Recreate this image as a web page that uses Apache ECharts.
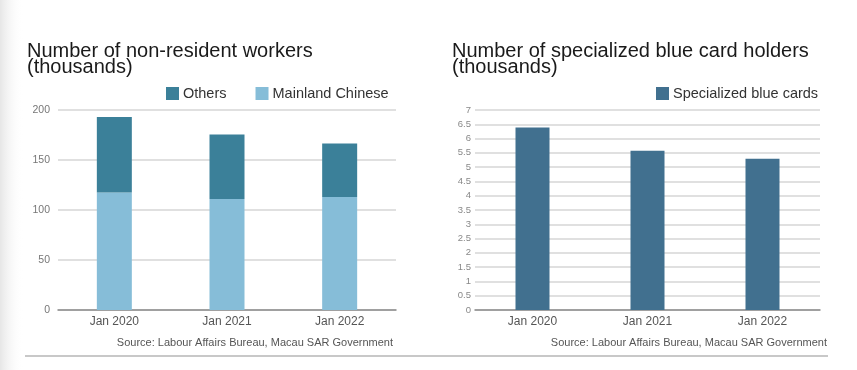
<!DOCTYPE html>
<html><head><meta charset="utf-8">
<script src="https://cdn.jsdelivr.net/npm/echarts@6/dist/echarts.min.js"></script>
<style>html,body{margin:0;padding:0;background:#fff}#c{width:857px;height:370px}</style>
</head><body><div id="c"></div>
<script>
var categories = ['Jan 2020', 'Jan 2021', 'Jan 2022'];
var mainlandChinese = [117.5, 111, 113];
var others = [75.5, 64.5, 53.5];
var blueCards = [6.39, 5.57, 5.29];
var leftTicks = [0, 50, 100, 150, 200];
var rightTicks = [0, 0.5, 1, 1.5, 2, 2.5, 3, 3.5, 4, 4.5, 5, 5.5, 6, 6.5, 7];

var FF = '"Liberation Sans", Arial, sans-serif';
var chart = echarts.init(document.getElementById('c'), null, {renderer: 'canvas'});
var yBase = {
  type: 'value',
  axisLine: {show: false}, axisTick: {show: false},
  splitLine: {lineStyle: {color: '#d6d6d6', width: 1.5}}
};
var xBase = {
  type: 'category', data: categories,
  axisLine: {lineStyle: {color: '#8a8a8a', width: 1.5}},
  axisTick: {show: false},
  axisLabel: {color: '#555', fontSize: 12, fontFamily: FF, margin: 6}
};
chart.setOption({
  animation: false,
  backgroundColor: '#fff',
  title: [
    {text: 'Number of non-resident workers\n(thousands)', left: 22, top: 38,
     textStyle: {fontFamily: FF, fontSize: 20, fontWeight: 'normal', color: '#1a1a1a', lineHeight: 16.5}},
    {text: 'Number of specialized blue card holders\n(thousands)', left: 447, top: 38,
     textStyle: {fontFamily: FF, fontSize: 20, fontWeight: 'normal', color: '#1a1a1a', lineHeight: 16.5}}
  ],
  legend: [
    {data: ['Others', 'Mainland Chinese'], left: 161, top: 81, itemWidth: 13, itemHeight: 13, itemGap: 29,
     textStyle: {fontFamily: FF, fontSize: 14.5, color: '#333', padding: [0, 0, 0, -1]}, icon: 'rect'},
    {data: ['Specialized blue cards'], left: 651, top: 81, itemWidth: 13, itemHeight: 13,
     textStyle: {fontFamily: FF, fontSize: 14.5, color: '#333', padding: [0, 0, 0, -1]}, icon: 'rect'}
  ],
  grid: [
    {left: 58, top: 110, width: 338, height: 200, containLabel: false},
    {left: 475, top: 110, width: 345, height: 200, containLabel: false}
  ],
  xAxis: [
    Object.assign({gridIndex: 0}, xBase),
    Object.assign({gridIndex: 1}, xBase)
  ],
  yAxis: [
    Object.assign({gridIndex: 0, min: leftTicks[0], max: leftTicks[leftTicks.length - 1], interval: 50,
      axisLabel: {color: '#777', fontSize: 10.5, fontFamily: FF, margin: 8}}, yBase),
    Object.assign({gridIndex: 1, min: rightTicks[0], max: rightTicks[rightTicks.length - 1], interval: 0.5,
      axisLabel: {color: '#888', fontSize: 9.5, fontFamily: FF, margin: 4}}, yBase)
  ],
  series: [
    {name: 'Mainland Chinese', type: 'bar', stack: 'a', xAxisIndex: 0, yAxisIndex: 0, data: mainlandChinese,
     barWidth: 35, itemStyle: {color: '#86bdd8'}},
    {name: 'Others', type: 'bar', stack: 'a', xAxisIndex: 0, yAxisIndex: 0, data: others,
     barWidth: 35, itemStyle: {color: '#3b8099'}},
    {name: 'Specialized blue cards', type: 'bar', xAxisIndex: 1, yAxisIndex: 1, data: blueCards,
     barWidth: 34, itemStyle: {color: '#41708f'}}
  ],
  graphic: [
    {type: 'rect', shape: {x: 0, y: 0, width: 24, height: 370}, silent: true, z: -1,
     style: {fill: new echarts.graphic.LinearGradient(0, 0, 1, 0, [{offset: 0, color: '#e6e6e6'}, {offset: 1, color: 'rgba(255,255,255,0)'}])}},
    {type: 'text', right: 857 - 393, top: 337, style: {text: 'Source: Labour Affairs Bureau, Macau SAR Government',
      font: '11px "Liberation Sans", Arial, sans-serif', fill: '#555'}},
    {type: 'text', right: 857 - 827, top: 337, style: {text: 'Source: Labour Affairs Bureau, Macau SAR Government',
      font: '11px "Liberation Sans", Arial, sans-serif', fill: '#555'}},
    {type: 'line', shape: {x1: 25, y1: 356, x2: 828, y2: 356}, style: {stroke: '#c8c8c8', lineWidth: 2}}
  ]
});
</script></body></html>
